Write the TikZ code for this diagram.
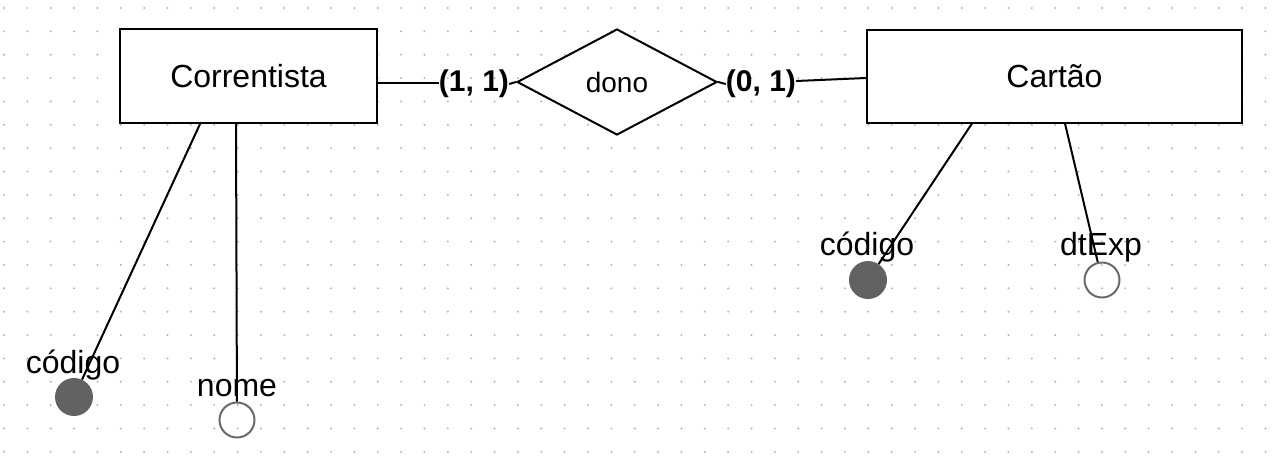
\documentclass[tikz,border=0pt]{standalone}
\usepackage{fontspec}
\setmainfont{Liberation Sans}
\usetikzlibrary{shapes.geometric,calc}
\definecolor{dotgray}{HTML}{B4B4B4}
\definecolor{keyfill}{HTML}{626262}
\definecolor{ringgray}{HTML}{6A6A6A}
\tikzset{
  entity/.style={draw=black, line width=2pt, fill=white, rectangle, inner sep=0pt,
    font=\fontsize{32}{37}\selectfont},
  relation/.style={draw=black, line width=2pt, fill=white, diamond, inner sep=0pt,
    minimum width=200pt, minimum height=106pt, font=\fontsize{28}{33}\selectfont},
  card/.style={inner sep=0pt, font=\fontsize{30}{35}\selectfont\bfseries},
  keyattr/.style={circle, fill=keyfill, inner sep=0pt, minimum size=38pt},
  plainattr/.style={circle, draw=ringgray, line width=2pt, inner sep=0pt, minimum size=35pt},
  attrlabel/.style={inner sep=0pt, anchor=base, font=\fontsize{32}{37}\selectfont},
  conn/.style={draw=black, line width=2pt},
}
\begin{document}
\begin{tikzpicture}[x=1pt,y=-1pt]
\useasboundingbox (0,0) rectangle (1278,459);
\fill[white] (0,0) rectangle (1278,459);
% dotted grid
\foreach \i in {0,...,54}{
  \foreach \j in {0,...,19}{
    \fill[dotgray] ({4+23.36*\i},{8+23.36*\j}) circle (1.1pt);
  }
}
% entities and relation
\node[entity, minimum width=257pt, minimum height=94pt] (corr) at (248.5,76) {Correntista};
\node[entity, minimum width=375pt, minimum height=93pt] (cart) at (1054.5,76) {Cartão};
\node[relation] (dono) at (617,82) {dono};
\node[card] (l11) at (474,84) {(1, 1)};
\node[card] (l01) at (761,84) {(0, 1)};
% attribute circles
\node[keyattr] (ck1) at (74,397) {};
\node[plainattr] (cn) at (237,420) {};
\node[keyattr] (ck2) at (868,280) {};
\node[plainattr] (cd) at (1102,280) {};
% connectors
\draw[conn] ($(l11.west -| corr.east)+(0,-1)$) -- ($(l11.west)+(0,-1)$);
\draw[conn] (l11.east) -- (dono.west);
\draw[conn] (dono.east) -- (l01.west);
\draw[conn] ($(l01.east)+(0,-3)$) -- ($(cart.west)+(0,2)$);
\coordinate (ck1top) at ($(corr.south west)+(81,0)$);
\coordinate (cntop) at ($(corr.south west)+(117,0)$);
\coordinate (ck2top) at ($(cart.south west)+(106,0)$);
\coordinate (cdtop) at ($(cart.south west)+(199,0)$);
\draw[conn] (ck1top) -- (ck1);
\draw[conn] (cntop) -- (cn);
\draw[conn] (ck2top) -- (ck2);
\draw[conn] (cdtop) -- (cd);
% attribute labels
\node[attrlabel] (tk1) at (73,373) {código};
\node[attrlabel] (tn) at (237,396) {nome};
\node[attrlabel] (tk2) at (867,255) {código};
\node[attrlabel] (td) at (1101,255) {dtExp};
\end{tikzpicture}
\end{document}
